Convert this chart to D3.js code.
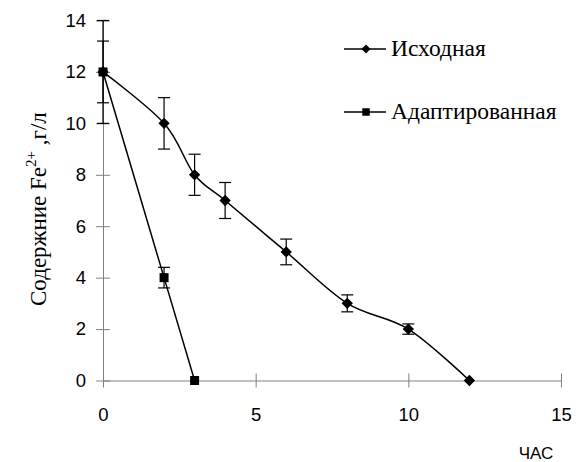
<!DOCTYPE html>
<head>
	<script src="https://d3js.org/d3.v7.min.js"></script>
	<style>
		body { margin: 0; background: #fff; }
	</style>
</head>
<body>
<svg></svg>
<script>
	// исходные данные
	var hours1 = [0, 2, 3, 4, 6, 8, 10, 12];
	var fe1 = [12, 10, 8, 7, 5, 3, 2, 0];
	var err1 = [1.2, 1, 0.8, 0.7, 0.5, 0.33, 0.2, 0];

	var hours2 = [0, 2, 3];
	var fe2 = [12, 4, 0];
	var err2 = [2, 0.4, 0];

	var xTicks = [0, 5, 10, 15];
	var yTicks = [0, 2, 4, 6, 8, 10, 12, 14];
	var names = ["Исходная", "Адаптированная"];

	var serif = "'Liberation Serif', 'Times New Roman', serif";
	var sans = "'Liberation Sans', Arial, sans-serif";

	var width = 584, height = 462;
	var svg = d3.select("svg").attr("width", width).attr("height", height);

	var x = d3.scaleLinear().domain([0, 15]).range([103, 561]);
	var y = d3.scaleLinear().domain([0, 14]).range([380.5, 20.5]);

	var xAxis = svg.append("g")
		.attr("transform", "translate(0," + y(0) + ")")
		.call(d3.axisBottom(x).tickValues(xTicks).tickSize(0).tickPadding(27));
	xAxis.selectAll(".tick line").attr("y1", -7).attr("y2", 7);

	var yAxis = svg.append("g")
		.attr("transform", "translate(" + x(0) + ",0)")
		.call(d3.axisLeft(y).tickValues(yTicks).tickSize(0).tickPadding(17));
	yAxis.selectAll(".tick line").attr("x1", -7).attr("x2", 7);

	svg.selectAll(".domain, .tick line").attr("stroke", "#808080").attr("stroke-width", 1);
	svg.selectAll(".tick text")
		.attr("font-family", sans)
		.attr("font-size", "18.5px")
		.attr("fill", "#000");

	var line = d3.line()
		.x(function(d) { return x(d[0]); })
		.y(function(d) { return y(d[1]); })
		.curve(d3.curveCatmullRom.alpha(0));

	// ромб = повернутый квадрат
	function marker(type) {
		return type === "diamond"
			? d3.symbol().type(d3.symbolSquare).size(64)()
			: d3.symbol().type(d3.symbolSquare).size(81)();
	}
	function markerRot(type) { return type === "diamond" ? " rotate(45)" : ""; }

	function series(xs, ys, es, type) {
		var data = xs.map(function(v, i) { return [v, ys[i], es[i]]; });
		svg.append("path").datum(data)
			.attr("d", line)
			.attr("fill", "none")
			.attr("stroke", "#000")
			.attr("stroke-width", 1.5);

		var bars = svg.append("g").attr("stroke", "#000").attr("stroke-width", 1.2);
		data.filter(function(d) { return d[2] > 0; }).forEach(function(d) {
			var cx = x(d[0]);
			bars.append("line").attr("x1", cx).attr("x2", cx).attr("y1", y(d[1] - d[2])).attr("y2", y(d[1] + d[2]));
			bars.append("line").attr("x1", cx - 6).attr("x2", cx + 6).attr("y1", y(d[1] - d[2])).attr("y2", y(d[1] - d[2]));
			bars.append("line").attr("x1", cx - 6).attr("x2", cx + 6).attr("y1", y(d[1] + d[2])).attr("y2", y(d[1] + d[2]));
		});

		svg.append("g").selectAll("path").data(data).enter()
			.append("path")
			.attr("d", marker(type))
			.attr("transform", function(d) { return "translate(" + x(d[0]) + "," + y(d[1]) + ")" + markerRot(type); })
			.attr("fill", "#000");
	}

	series(hours2, fe2, err2, "square");
	series(hours1, fe1, err1, "diamond");

	// легенда
	var legend = [[names[0], "diamond", 49], [names[1], "square", 112]];
	legend.forEach(function(l) {
		svg.append("line").attr("x1", 344).attr("x2", 386).attr("y1", l[2]).attr("y2", l[2])
			.attr("stroke", "#000").attr("stroke-width", 1.5);
		svg.append("path").attr("d", l[1] === "diamond" ? d3.symbol().type(d3.symbolSquare).size(40)() : d3.symbol().type(d3.symbolSquare).size(56)())
			.attr("transform", "translate(366," + l[2] + ")" + markerRot(l[1])).attr("fill", "#000");
		svg.append("text").attr("x", 391).attr("y", l[2] + 7)
			.attr("font-family", serif)
			.attr("font-size", 23.5).text(l[0]);
	});

	var yl = svg.append("text")
		.attr("transform", "translate(46,306) rotate(-90)")
		.attr("font-family", serif)
		.attr("font-size", 23);
	yl.append("tspan").text("Содержние Fe");
	yl.append("tspan").attr("dy", -10).attr("font-size", 15).text("2+");
	yl.append("tspan").attr("dy", 10).text(" ,г/л");

	svg.append("text").attr("x", 536).attr("y", 459)
		.attr("text-anchor", "middle")
		.attr("font-family", sans)
		.attr("font-size", 17).text("ЧАС");
</script>
</body>
</html>
